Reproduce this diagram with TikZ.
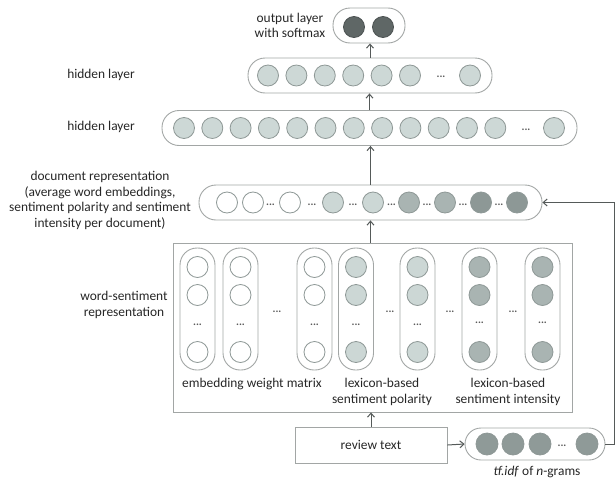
\documentclass[tikz,border=0pt]{standalone}
\usepackage{fontspec}
\setmainfont{Carlito}
\usetikzlibrary{arrows.meta}
\definecolor{pillline}{HTML}{A2A6A5}
\definecolor{unitline}{HTML}{8E9896}
\definecolor{hidfill}{HTML}{CDD8D6}
\definecolor{outfill}{HTML}{5F6766}
\definecolor{lightfill}{HTML}{CCD7D5}
\definecolor{midfill}{HTML}{A9B4B2}
\definecolor{darkfill}{HTML}{8D9896}
\definecolor{tffill}{HTML}{8F9A98}
\definecolor{wiring}{HTML}{555A59}
\tikzset{
  pill/.style={draw=pillline, line width=0.9pt, rounded corners=17pt, minimum height=35pt, inner sep=0pt},
  colpill/.style={draw=pillline, line width=0.9pt, rounded corners=17pt, minimum width=35pt, minimum height=122pt, inner sep=0pt},
  unit/.style={circle, draw=unitline, line width=0.8pt, minimum size=21pt, inner sep=0pt, fill=#1},
  unit/.default=white,
  dotsnode/.style={font=\fontsize{11}{11}\bfseries\selectfont, inner sep=0pt, text=black!65},
  txt/.style={font=\fontsize{13.4}{15.5}\selectfont, text=black!85, align=center, inner sep=0pt},
  conn/.style={draw=wiring, line width=1pt, -{Straight Barb[length=4pt,width=7pt]}}
}
\begin{document}
\begin{tikzpicture}[x=1pt,y=-1pt]
  \useasboundingbox (0,0) rectangle (616,482);
  % output layer
  \node [pill, minimum width=72pt] (out) at (369,25.5) {};
  \node [unit=outfill, draw=outfill!80!black] (o1) at (354,27) {};
  \node [unit=outfill, draw=outfill!80!black] (o2) at (383,27) {};
  \node [txt] (outlab) at (290,25.5) {output layer\\with softmax};
  % upper hidden layer
  \node [pill, minimum width=244pt] (hidb) at (370,75.5) {};
  \foreach \x [count=\i] in {268,296.4,324.8,353.2,381.6,410,470}
    \node [unit=hidfill] (b\i) at (\x,75.5) {};
  \node [dotsnode] (bdots) at (441,77) {...};
  \node [txt] (hidblab) at (101,75) {hidden layer};
  % lower hidden layer
  \node [pill, minimum width=415pt] (hida) at (369.5,128) {};
  \foreach \x [count=\i] in {184,212.3,240.6,268.9,297.2,325.5,353.8,382.1,410.4,438.7,467,495.3,554}
    \node [unit=hidfill] (a\i) at (\x,128) {};
  \node [dotsnode] (adots) at (526,130) {...};
  \node [txt] (hidalab) at (101,127) {hidden layer};
  % document representation
  \node [pill, minimum width=343pt] (doc) at (370.5,202.5) {};
  \node [unit] (d1) at (227,202.5) {};
  \node [unit] (d2) at (253,202.5) {};
  \node [unit] (d3) at (290,202.5) {};
  \node [unit=lightfill] (d4) at (333,202.5) {};
  \node [unit=lightfill] (d5) at (373,202.5) {};
  \node [unit=midfill] (d6) at (409,202.5) {};
  \node [unit=midfill] (d7) at (445,202.5) {};
  \node [unit=darkfill] (d8) at (481,202.5) {};
  \node [unit=darkfill] (d9) at (517,202.5) {};
  \foreach \x [count=\i] in {270.5,312,353,391.5,427,463,499}
    \node [dotsnode] (dd\i) at (\x,205) {...};
  \node [txt] (doclab) at (100,200.5) {document representation\\(average word embeddings,\\sentiment polarity and sentiment\\intensity per document)};
  % word-sentiment representation
  \node [draw=pillline, line width=0.9pt, minimum width=399pt, minimum height=169pt, inner sep=0pt] (ws) at (372.5,327.5) {};
  \foreach \x [count=\i] in {197.5,240.5,314.5,356,417.5,479.5,542.5}
    \node [colpill] (c\i) at (\x,309) {};
  \foreach \x [count=\i] in {197.5,240.5,314.5} {
    \node [unit] (e\i a) at (\x,267) {};
    \node [unit] (e\i b) at (\x,295) {};
    \node [unit] (e\i c) at (\x,352) {};
    \node [dotsnode] (e\i d) at (\x,325) {...};
  }
  \foreach \x [count=\i] in {356,417.5} {
    \node [unit=lightfill] (p\i a) at (\x,267) {};
    \node [unit=lightfill] (p\i b) at (\x,295) {};
    \node [unit=lightfill] (p\i c) at (\x,352) {};
    \node [dotsnode] (p\i d) at (\x,325) {...};
  }
  \foreach \x [count=\i] in {479.5,542.5} {
    \node [unit=midfill] (s\i a) at (\x,267) {};
    \node [unit=midfill] (s\i b) at (\x,295) {};
    \node [unit=midfill] (s\i c) at (\x,352) {};
    \node [dotsnode] (s\i d) at (\x,323) {...};
  }
  \foreach \x [count=\i] in {277,390,450,513}
    \node [dotsnode] (cd\i) at (\x,312) {...};
  \node [txt] (emblab) at (252,384) {embedding weight matrix};
  \node [txt] (pollab) at (382,392) {lexicon-based\\sentiment polarity};
  \node [txt] (intlab) at (508,392) {lexicon-based\\sentiment intensity};
  \node [txt] (wslab) at (124,305) {word-sentiment\\representation};
  % review text and tf.idf
  \node [draw=pillline, line width=0.9pt, minimum width=152pt, minimum height=36pt, txt] (rev) at (371,445) {review text};
  \node [pill, minimum width=140pt, minimum height=32pt, rounded corners=16pt] (tf) at (535,444) {};
  \foreach \x [count=\i] in {487,513,540,587}
    \node [unit=tffill, minimum size=22pt] (t\i) at (\x,444) {};
  \node [dotsnode] (tdots) at (562,446) {...};
  \node [txt] (tflab) at (537,472) {\textit{tf.idf} of \textit{n}-grams};
  % connectors
  \coordinate (fb) at (614,444);
  \draw [conn] (hidb.north) -- (hidb.north |- out.south);
  \draw [conn] (hida.north) -- (hida.north |- hidb.south);
  \draw [conn] (doc.north) -- (doc.north |- hida.south);
  \draw [conn] (ws.north -| doc.south) -- (doc.south);
  \draw [conn] (rev.north) -- (rev.north |- ws.south);
  \draw [conn] (rev.east) -- (tf.west);
  \draw [conn] (tf.east) -- (fb) |- (doc.east);
\end{tikzpicture}
\end{document}
